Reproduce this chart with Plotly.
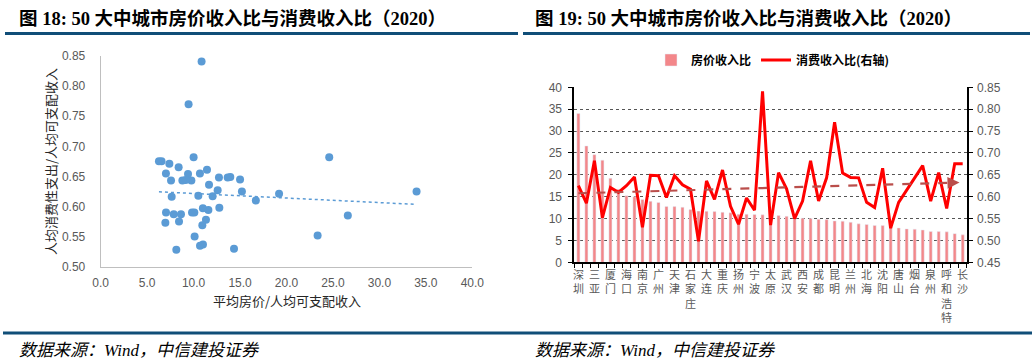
import numpy as np
import plotly.graph_objects as go

# ---------------- data ----------------
# 49 cities sorted by house-price/income ratio (only every other name is shown on the axis)
cities = ["深圳", "上海", "三亚", "北京", "厦门", "杭州", "海口", "福州", "南京", "温州",
          "广州", "珠海", "天津", "东莞", "石家庄", "苏州", "大连", "郑州", "重庆", "青岛",
          "扬州", "合肥", "宁波", "贵阳", "太原", "南宁", "武汉", "济南", "西安", "哈尔滨",
          "成都", "南昌", "昆明", "长春", "兰州", "乌鲁木齐", "北海", "无锡", "沈阳", "西宁",
          "唐山", "银川", "烟台", "洛阳", "泉州", "湛江", "呼和浩特", "包头", "长沙"]
house_income_ratio = [34.0, 26.6, 24.6, 23.35, 19.2, 16.7, 15.2, 15.0, 14.35, 13.95,
                      13.67, 12.77, 12.73, 12.59, 12.05, 11.7, 11.66, 11.59, 11.44, 11.33,
                      11.01, 11.0, 10.94, 10.86, 10.69, 10.68, 10.51, 10.11, 10.08, 10.0,
                      9.83, 9.76, 9.46, 9.40, 9.15, 8.79, 8.64, 8.43, 8.39, 8.14,
                      7.86, 7.64, 7.57, 7.39, 7.03, 7.02, 6.96, 6.55, 6.27]
consumption_income_ratio = [0.625, 0.585, 0.682, 0.552, 0.621, 0.610, 0.625, 0.645, 0.530, 0.649,
                            0.648, 0.598, 0.648, 0.627, 0.617, 0.498, 0.636, 0.594, 0.661, 0.578,
                            0.537, 0.597, 0.569, 0.841, 0.535, 0.655, 0.618, 0.550, 0.590, 0.682,
                            0.590, 0.643, 0.770, 0.654, 0.644, 0.643, 0.587, 0.575, 0.665, 0.528,
                            0.587, 0.616, 0.643, 0.671, 0.590, 0.655, 0.573, 0.675, 0.675]

scatter_x_ticks = [0, 5, 10, 15, 20, 25, 30, 35, 40]
scatter_y_ticks = [0.50, 0.55, 0.60, 0.65, 0.70, 0.75, 0.80, 0.85]
bar_y_ticks = [0, 5, 10, 15, 20, 25, 30, 35, 40]
line_y_ticks = [0.45, 0.50, 0.55, 0.60, 0.65, 0.70, 0.75, 0.80, 0.85]

title_left = "图 18: 50 大中城市房价收入比与消费收入比（2020）"
title_right = "图 19: 50 大中城市房价收入比与消费收入比（2020）"
source_text = "数据来源：Wind，中信建投证券"
x_title = "平均房价/人均可支配收入"
y_title = "人均消费性支出/人均可支配收入"

# ---------------- layout helpers ----------------
W, H = 1035, 363
def px(x):
    return x / W
def py(y):
    return 1 - y / H

house = np.array(house_income_ratio)
cons = np.array(consumption_income_ratio)
idx = np.arange(len(cities))

TICK_FONT = dict(family="Liberation Sans, Arial, sans-serif", size=12, color="#595959")
CJK = "Noto Sans CJK SC"

fig = go.Figure()

# ---------- left: scatter ----------
visible = (cons >= scatter_y_ticks[0]) & (cons <= scatter_y_ticks[-1])
fig.add_trace(go.Scatter(x=house[visible], y=cons[visible], mode="markers",
                         marker=dict(color="#5B9BD5", size=8),
                         xaxis="x", yaxis="y", showlegend=False, cliponaxis=False))
k1, b1 = np.polyfit(house, cons, 1)
tx = np.array([house.min(), house.max()])
fig.add_trace(go.Scatter(x=tx, y=k1 * tx + b1, mode="lines",
                         line=dict(color="#5B9BD5", width=1.5, dash="dot"),
                         xaxis="x", yaxis="y", showlegend=False))

# ---------- right: bars + line ----------
fig.add_trace(go.Bar(x=idx, y=house, name="房价收入比", marker_color="#F3878A",
                     width=0.38, xaxis="x2", yaxis="y2"))
fig.add_trace(go.Scatter(x=idx, y=cons, name="消费收入比(右轴)", mode="lines",
                         line=dict(color="#FF0000", width=3), xaxis="x2", yaxis="y3"))
k2, b2 = np.polyfit(idx, cons, 1)
t_end = idx[-1] - 1.0
tx2 = np.array([idx[0], t_end])
fig.add_trace(go.Scatter(x=tx2, y=k2 * tx2 + b2, mode="lines",
                         line=dict(color="#BA4E4B", width=2.2, dash="dash"),
                         xaxis="x2", yaxis="y3", showlegend=False))

annotations = []
# trend arrow head
head_x = idx[-1] - 0.4
annotations.append(dict(x=head_x, y=k2 * head_x + b2, ax=t_end - 0.3, ay=k2 * (t_end - 0.3) + b2,
                        xref="x2", yref="y3", axref="x2", ayref="y3", text="",
                        showarrow=True, arrowhead=2, arrowsize=1.2, arrowwidth=2,
                        arrowcolor="#BA4E4B", standoff=0))

# vertical (stacked) category labels, every other category
for i in range(0, len(cities), 2):
    annotations.append(dict(x=int(idx[i]), y=0, xref="x2", yref="y2",
                            text="<br>".join(list(cities[i])),
                            showarrow=False, yanchor="top", xanchor="center",
                            yshift=-3, borderpad=0,
                            font=dict(family=CJK, size=11, color="#595959")))

# titles
for xpos, t in [(17, title_left), (533, title_right)]:
    annotations.append(dict(x=px(xpos), y=py(18), xref="paper", yref="paper", text=t,
                            showarrow=False, xanchor="left", yanchor="middle",
                            font=dict(family="Liberation Serif, " + CJK, size=18.5, color="#000000",
                                      weight="bold")))
# sources
for xpos in [17, 533]:
    annotations.append(dict(x=px(xpos), y=py(350), xref="paper", yref="paper", text=source_text,
                            showarrow=False, xanchor="left", yanchor="middle",
                            font=dict(family="Liberation Serif, " + CJK, size=17, color="#000000",
                                      style="italic")))
# scatter axis titles
annotations.append(dict(x=px(286.5), y=py(300), xref="paper", yref="paper", text=x_title,
                        showarrow=False, xanchor="center", yanchor="middle",
                        font=dict(family=CJK, size=13, color="#262626")))
annotations.append(dict(x=px(50), y=py(162), xref="paper", yref="paper", text=y_title,
                        showarrow=False, xanchor="center", yanchor="middle", textangle=-90,
                        font=dict(family=CJK, size=13, color="#262626")))

shapes = [
    dict(type="line", xref="paper", yref="paper", x0=px(5), x1=px(518), y0=py(33.5), y1=py(33.5),
         line=dict(color="#104E78", width=3)),
    dict(type="line", xref="paper", yref="paper", x0=px(523), x1=px(1030), y0=py(33.5), y1=py(33.5),
         line=dict(color="#104E78", width=3)),
    dict(type="line", xref="paper", yref="paper", x0=px(3), x1=px(1032), y0=py(333), y1=py(333),
         line=dict(color="#104E78", width=3)),
]

fig.update_layout(
    width=W, height=H, margin=dict(l=0, r=0, t=0, b=0, autoexpand=False),
    paper_bgcolor="white", plot_bgcolor="white",
    font=dict(family="Liberation Sans, " + CJK + ", sans-serif"),
    annotations=annotations, shapes=shapes, bargap=0, hovermode=False,
    legend=dict(orientation="h", x=px(651), y=py(60), xanchor="left", yanchor="middle",
                font=dict(family=CJK, size=12, color="#000000", weight="bold"),
                bgcolor="rgba(0,0,0,0)", itemwidth=30),
    xaxis=dict(domain=[px(100.7), px(472.3)], range=[0, 40], tickvals=scatter_x_ticks,
               tickformat=".1f", showline=True, linecolor="#BFBFBF", linewidth=1,
               showgrid=False, zeroline=False, ticks="", tickfont=TICK_FONT,
               ticklabelstandoff=5, anchor="y", automargin=False),
    yaxis=dict(domain=[py(266.7), py(56)], range=[0.5, 0.85], tickvals=scatter_y_ticks,
               tickformat=".2f", showline=True, linecolor="#BFBFBF", linewidth=1,
               showgrid=False, zeroline=False, ticks="", tickfont=TICK_FONT,
               ticklabelstandoff=12, anchor="x", automargin=False),
    xaxis2=dict(domain=[px(574.4), px(966.7)], range=[-0.5, len(cities) - 0.5],
                tickvals=list(np.arange(-0.5, len(cities), 1.0)), showticklabels=False,
                ticks="outside", ticklen=4, tickcolor="#000000", tickwidth=1,
                showline=True, linecolor="#000000", linewidth=2,
                showgrid=False, zeroline=False, anchor="y2", automargin=False),
    yaxis2=dict(domain=[py(262.3), py(87.3)], range=[0, 40], tickvals=bar_y_ticks,
                showline=True, linecolor="#000000", linewidth=2,
                ticks="outside", ticklen=4, tickcolor="#000000",
                showgrid=True, gridcolor="#555555", griddash="dot", gridwidth=1,
                zeroline=False, tickfont=TICK_FONT, ticklabelstandoff=4, anchor="x2",
                automargin=False),
    yaxis3=dict(overlaying="y2", side="right", range=[0.45, 0.85], tickvals=line_y_ticks,
                tickformat=".2f", showline=True, linecolor="#000000", linewidth=2,
                ticks="outside", ticklen=4, tickcolor="#000000",
                showgrid=False, zeroline=False, tickfont=TICK_FONT, ticklabelstandoff=2,
                anchor="x2", automargin=False),
)

fig.write_html("out.html", config={"displayModeBar": False, "staticPlot": True},
               post_script="document.body.style.margin='0px';document.body.style.overflow='hidden';")
